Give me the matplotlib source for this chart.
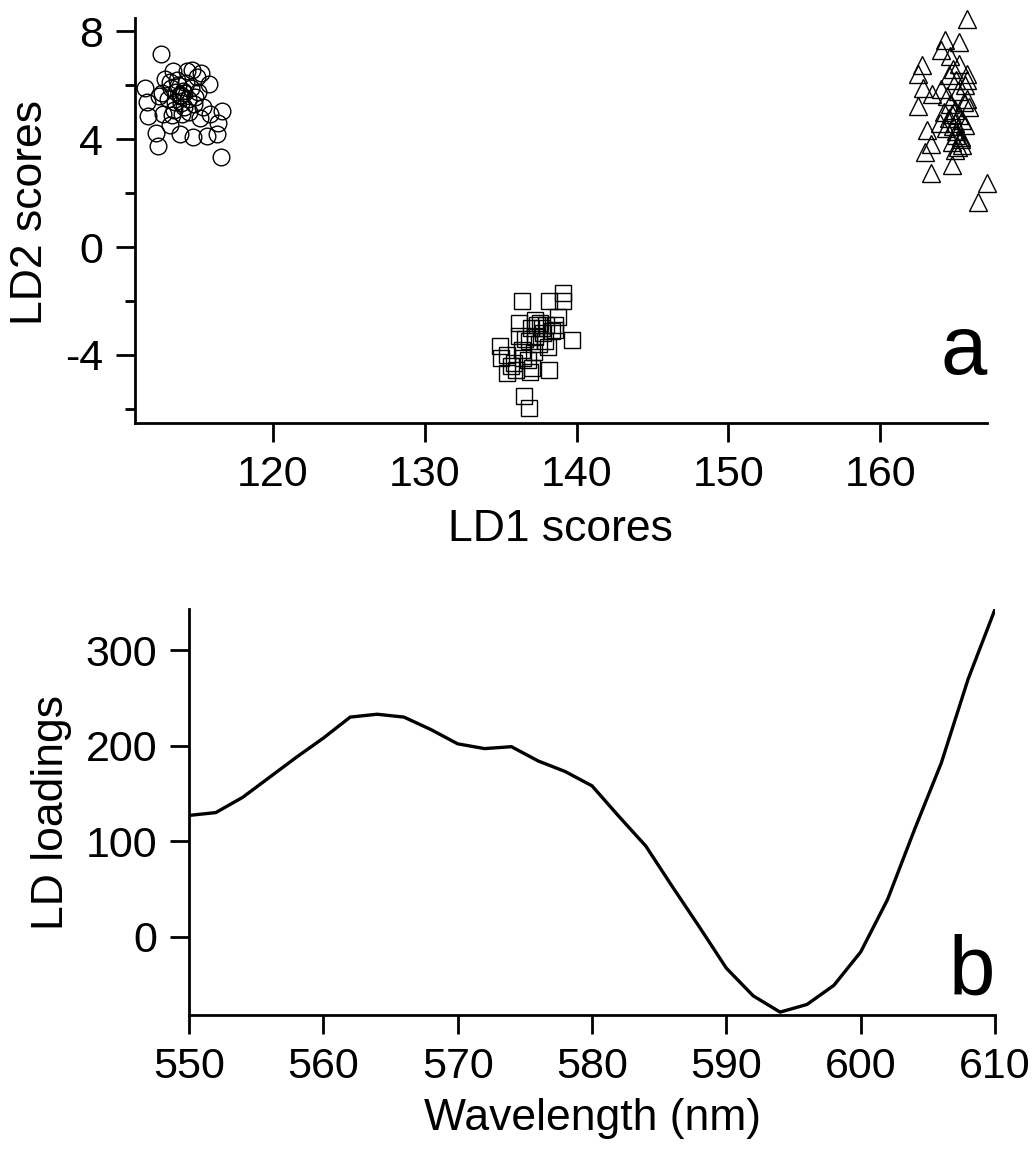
import matplotlib
matplotlib.use('Agg')
import matplotlib.pyplot as plt

plt.rcParams['font.family'] = ['Liberation Sans', 'DejaVu Sans']
plt.rcParams['axes.unicode_minus'] = False

# LD scores, group 1 (circles)
circ_x = [112.65, 111.82, 112.48, 112.3, 116.6, 116.64, 115.83, 111.6, 111.75, 113.9,
          114.73, 115.65, 116.36, 116.4, 115.2, 113.24, 112.8, 113.46, 114.34, 114.67,
          115.0, 113.24, 112.7, 115.44, 115.87, 113.9, 114.1, 113.6, 114.4, 113.3,
          114.8, 113.8, 114.2, 113.5, 114.6, 113.1, 114.0, 114.9, 113.7, 114.3,
          112.9, 115.1, 113.4, 114.5, 113.95, 114.15, 113.65, 112.5, 115.3, 114.05]
circ_y = [7.18, 4.86, 3.76, 4.24, 3.34, 5.06, 6.05, 5.92, 5.39, 4.2,
          4.07, 4.13, 4.2, 4.6, 4.8, 4.53, 4.93, 6.52, 6.52, 6.58,
          6.3, 6.12, 5.72, 5.19, 4.93, 5.6, 5.8, 5.4, 5.5, 5.9,
          5.3, 6.0, 5.2, 5.1, 5.9, 5.5, 5.65, 5.55, 6.2, 6.1,
          6.25, 5.75, 4.9, 5.0, 5.35, 5.7, 5.75, 5.6, 6.45, 4.95]

# group 2 (squares)
sq_x = [136.4, 138.2, 138.75, 134.95, 135.44, 135.0, 135.44, 136.0, 136.97, 138.2,
        136.53, 136.86, 136.2, 137.3, 138.6, 138.6, 139.67, 139.1, 139.1, 137.6,
        137.0, 136.6, 137.8, 138.0, 137.2, 136.4, 135.9, 137.5, 137.9, 136.8,
        137.4, 138.4, 136.2, 137.1, 137.7, 135.7, 136.5, 138.1, 137.3, 136.9]
sq_y = [-1.99, -1.99, -2.6, -3.67, -4.0, -4.1, -4.67, -4.56, -4.62, -4.56,
        -5.54, -5.98, -2.83, -3.32, -3.07, -2.89, -3.44, -1.7, -2.0, -2.8,
        -3.0, -3.4, -3.2, -2.9, -3.9, -3.8, -4.3, -3.6, -3.5, -4.2,
        -2.9, -3.1, -3.3, -4.5, -3.0, -4.4, -4.1, -3.7, -2.7, -3.5]

# group 3 (triangles)
tri_x = [165.7, 164.28, 165.15, 164.0, 162.74, 162.5, 165.7, 165.7, 162.8, 163.4,
         165.7, 162.5, 164.0, 163.07, 165.6, 162.96, 163.3, 163.3, 164.72, 167.0,
         166.4, 164.6, 164.9, 165.2, 165.4, 164.8, 165.0, 165.3, 164.7, 165.1,
         164.5, 164.9, 165.5, 164.4, 165.2, 164.8, 165.0, 164.6, 165.3, 164.9,
         164.3, 165.1, 165.6, 164.7, 165.0, 164.2, 163.9, 165.4, 164.5, 165.8]
tri_y = [8.45, 7.67, 7.6, 7.3, 6.74, 6.43, 6.43, 6.19, 5.91, 5.69,
         5.5, 5.22, 5.88, 4.33, 4.52, 3.53, 3.84, 2.73, 3.04, 2.36,
         1.68, 5.3, 5.1, 4.9, 4.7, 4.5, 4.3, 4.1, 3.9, 3.7,
         4.8, 4.6, 5.4, 5.6, 6.8, 6.6, 6.2, 7.1, 4.0, 3.6,
         4.4, 5.8, 6.0, 4.95, 4.15, 5.0, 4.6, 3.8, 6.4, 5.2]

# LD loadings
wavelength = list(range(550, 612, 2))
loadings = [127, 130, 146, 167, 188, 208, 230, 233, 230, 217,
            202, 197, 199, 184, 173, 158, 126, 95, 52, 10,
            -33, -62, -79, -71, -51, -16, 39, 112, 182, 270, 343]

fig = plt.figure(figsize=(10.35, 11.56), dpi=100)
ax1 = fig.add_axes([0.1304, 0.634, 0.823, 0.350])
ax2 = fig.add_axes([0.1826, 0.122, 0.7788, 0.351])

mk = dict(linestyle='none', markerfacecolor='none', markeredgecolor='black',
          markeredgewidth=1.0, clip_on=False)
ax1.plot(circ_x, circ_y, marker='o', markersize=12, **mk)
ax1.plot(sq_x, sq_y, marker='s', markersize=11.5, **mk)
ax1.plot(tri_x, tri_y, marker='^', markersize=13, **mk)
ax1.set_xlim(110.94, 167.0)
ax1.set_ylim(-6.53, 8.48)
ax1.set_xticks([120, 130, 140, 150, 160])
ax1.set_yticks([8, 4, 0, -4])
ax1.set_yticks([6, 2, -2, -6], minor=True)
ax1.set_xlabel('LD1 scores', fontsize=32, labelpad=10)
ax1.set_ylabel('LD2 scores', fontsize=32, labelpad=8)
ax1.yaxis.set_label_coords(-0.098, 0.52)
ax1.text(1.0, 0.175, 'a', transform=ax1.transAxes, fontsize=60, ha='right', va='center')

ax2.plot(wavelength, loadings, color='black', linewidth=2.4)
ax2.set_xlim(550, 610)
ax2.set_ylim(-82, 343)
ax2.set_xticks(range(550, 611, 10))
ax2.set_yticks([0, 100, 200, 300])
ax2.set_xlabel('Wavelength (nm)', fontsize=32, labelpad=8)
ax2.set_ylabel('LD loadings', fontsize=32, labelpad=10)
ax2.text(1.0, 0.105, 'b', transform=ax2.transAxes, fontsize=60, ha='right', va='center')

for ax in (ax1, ax2):
    for s in ('top', 'right'):
        ax.spines[s].set_visible(False)
    for s in ('left', 'bottom'):
        ax.spines[s].set_linewidth(2)
    ax.tick_params(which='major', length=14, width=2, labelsize=31, direction='out', pad=9)
    ax.tick_params(which='minor', length=7, width=2, direction='out')

fig.savefig('out.png', dpi=100)
